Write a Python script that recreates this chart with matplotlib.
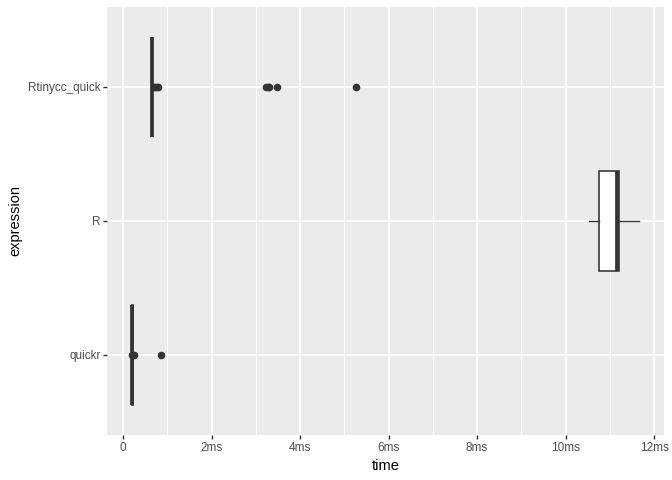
import matplotlib
matplotlib.use('Agg')
import matplotlib.pyplot as plt

plt.rcParams['font.family'] = ['Liberation Sans', 'DejaVu Sans']

# box stats, in ms
expressions = ['quickr', 'R', 'Rtinycc_quick']
q1 = [0.205, 10.76, 0.645]
med = [0.21, 11.16, 0.65]
q3 = [0.215, 11.20, 0.655]
whislo = [0.20, 10.53, 0.64]
whishi = [0.22, 11.66, 0.66]
fliers = [
    [0.20, 0.22, 0.24, 0.865],
    [],
    [0.69, 0.72, 0.76, 0.79, 3.24, 3.27, 3.29, 3.49, 5.27],
]
xticks = [0, 2, 4, 6, 8, 10, 12]
xticklabels = ['0', '2ms', '4ms', '6ms', '8ms', '10ms', '12ms']

stats = []
for i, name in enumerate(expressions):
    stats.append(dict(label=name, q1=q1[i], med=med[i], q3=q3[i],
                      whislo=whislo[i], whishi=whishi[i], fliers=fliers[i]))

fig = plt.figure(figsize=(7, 5), dpi=96)
ax = fig.add_axes([107.3 / 672, 1 - 435.4 / 480, 557 / 672, 428.8 / 480])
ax.set_facecolor('#EBEBEB')

lw = 1.2
ax.bxp(stats, positions=[1, 2, 3], vert=False, widths=0.75, patch_artist=True,
       showcaps=False,
       boxprops=dict(facecolor='white', edgecolor='#333333', linewidth=lw),
       whiskerprops=dict(color='#333333', linewidth=1.0),
       medianprops=dict(color='#333333', linewidth=2.8, solid_capstyle='butt'),
       flierprops=dict(marker='o', markersize=4.7, markerfacecolor='#333333',
                       markeredgecolor='#333333', linestyle='none'),
       zorder=3)

ax.set_xlim(-0.355, 12.23)
ax.set_ylim(0.4, 3.6)
ax.set_xticks(xticks)
ax.set_xticklabels(xticklabels)
ax.set_xticks([1, 3, 5, 7, 9, 11], minor=True)
ax.set_yticks([1, 2, 3])
ax.set_yticklabels(expressions)

ax.grid(True, which='major', color='white', linewidth=1.42, zorder=0)
ax.grid(True, which='minor', axis='x', color='white', linewidth=0.71, zorder=0)
ax.set_axisbelow(True)
for s in ax.spines.values():
    s.set_visible(False)

ax.tick_params(which='major', length=2.75, width=1.07, color='#333333',
               labelcolor='#4D4D4D', labelsize=8.8, pad=2.2)
ax.tick_params(which='minor', length=0)

ax.set_xlabel('time', fontsize=11, color='black', labelpad=3.5)
ax.set_ylabel('expression', fontsize=11, color='black', labelpad=4)

fig.savefig('out.png', dpi=96)
